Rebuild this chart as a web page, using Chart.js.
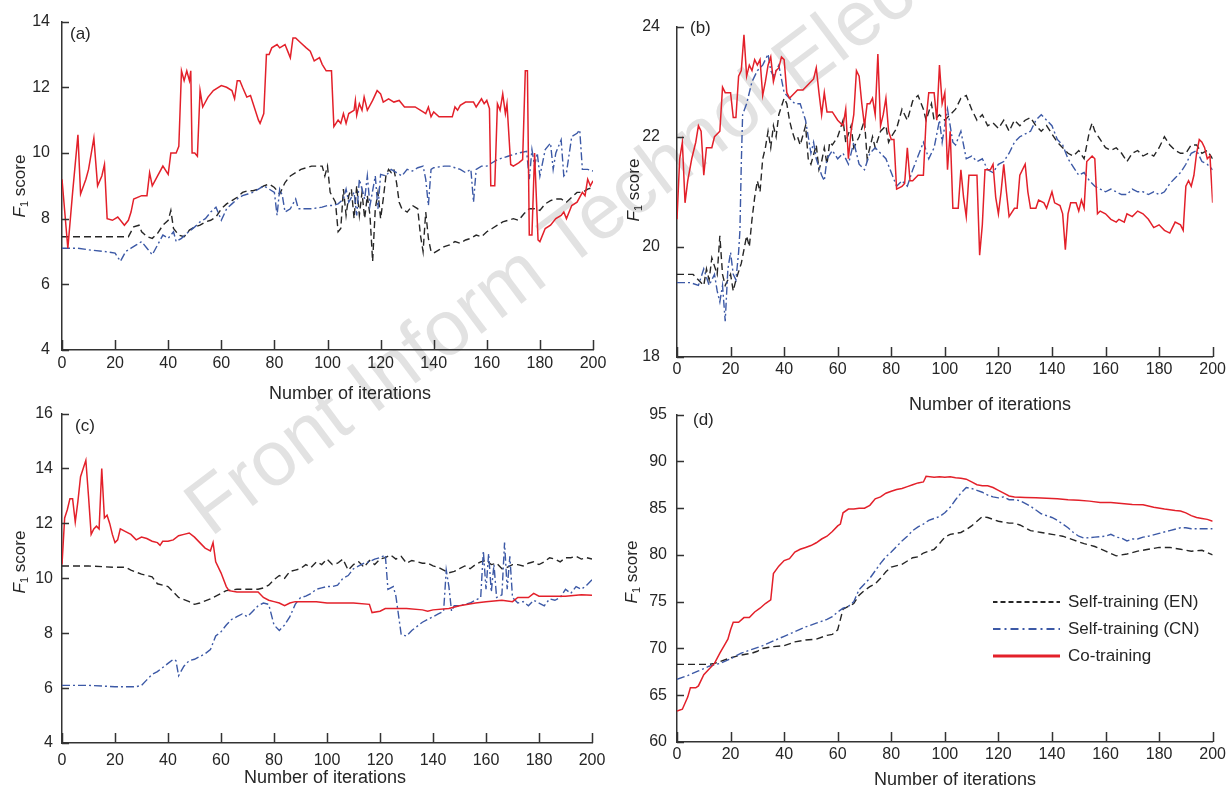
<!DOCTYPE html>
<html>
<head>
<meta charset="utf-8">
<title>F1 score vs number of iterations</title>
<script src="https://cdn.jsdelivr.net/npm/chart.js@4.4.1/dist/chart.umd.min.js"></script>
<style>
body { margin: 0; background: #fff; width: 1229px; height: 791px; overflow: hidden; position: relative; font-family: "Liberation Sans", Arial, sans-serif; }
canvas { position: absolute; z-index: 1; }
#wm { position: absolute; left: 222px; top: 462px; font-size: 78px; color: #e2e2e2; white-space: nowrap; transform-origin: 0 100%; transform: rotate(-37deg); z-index: 0; }
</style>
</head>
<body>
<div id="wm">Front Inform Technol Electron Eng</div>
<canvas id="ca" width="615" height="410" style="left:0;top:0;width:615px;height:410px"></canvas>
<canvas id="cb" width="614" height="420" style="left:615px;top:0;width:614px;height:420px"></canvas>
<canvas id="cc" width="615" height="396" style="left:0;top:395px;width:615px;height:396px"></canvas>
<canvas id="cd" width="614" height="396" style="left:615px;top:395px;width:614px;height:396px"></canvas>
<script>
// x ticks shared by every panel
var iterTicks = [0, 20, 40, 60, 80, 100, 120, 140, 160, 180, 200];
var yTicksA = [4, 6, 8, 10, 12, 14];
var yTicksB = [18, 20, 22, 24];
var yTicksC = [4, 6, 8, 10, 12, 14, 16];
var yTicksD = [60, 65, 70, 75, 80, 85, 90, 95];
var seriesNames = ['Self-training (EN)', 'Self-training (CN)', 'Co-training'];

// [iteration, F1 score]
var aEN = [[0,7.45],[10,7.45],[20,7.45],[25,7.45],[27,7.75],[29,7.8],[30,7.6],[32,7.45],[34,7.4],[36,7.55],[38,7.8],[40,7.95],[41,8.25],[42,7.7],[44,7.5],[46,7.45],[48,7.65],[50,7.75],[52,7.8],[54,7.9],[56,7.95],[58,8.05],[60,8.3],[62,8.45],[64,8.55],[66,8.65],[68,8.8],[70,8.85],[72,8.85],[74,8.9],[76,9.0],[78,9.05],[80,8.95],[82,8.75],[84,9.1],[86,9.3],[88,9.4],[90,9.5],[92,9.55],[94,9.6],[98,9.6],[99,9.3],[100,9.6],[101,8.8],[103,8.5],[104,7.6],[105,7.7],[106,8.9],[107,8.1],[108,8.7],[109,8.9],[110,8.0],[111,9.0],[112,8.1],[113,8.8],[114,8.0],[115,8.7],[116,8.1],[117,6.7],[118,8.3],[119,8.8],[120,8.0],[121,8.6],[122,9.3],[123,9.5],[124,9.4],[125,9.5],[126,9.1],[127,8.5],[128,8.3],[130,8.2],[132,8.4],[134,8.3],[135,7.5],[136,7.0],[137,8.2],[138,7.4],[139,7.0],[140,6.95],[142,7.05],[144,7.15],[146,7.2],[148,7.3],[150,7.25],[152,7.35],[154,7.4],[156,7.5],[158,7.45],[160,7.6],[162,7.7],[164,7.8],[166,7.9],[168,7.95],[170,8.0],[172,7.95],[174,8.15],[176,8.3],[178,8.3],[180,8.25],[182,8.45],[184,8.55],[186,8.6],[188,8.6],[190,8.5],[192,8.65],[194,8.8],[196,8.8],[198,8.9],[200,8.95]];
var aCN = [[0,7.1],[6,7.1],[10,7.05],[16,7.0],[20,6.95],[22,6.7],[24,7.0],[26,7.1],[28,7.2],[30,7.3],[32,7.1],[34,6.9],[36,7.2],[38,7.5],[40,7.4],[42,7.6],[43,7.3],[45,7.4],[47,7.55],[50,7.75],[52,7.9],[54,8.0],[56,8.2],[58,8.35],[60,7.95],[62,8.3],[64,8.45],[66,8.6],[68,8.7],[70,8.75],[72,8.8],[74,8.9],[76,9.0],[78,8.9],[80,8.8],[81,8.1],[82,8.9],[83,8.7],[84,8.2],[86,8.3],[88,8.6],[89,8.3],[90,8.3],[94,8.3],[98,8.35],[100,8.4],[102,8.4],[104,8.45],[106,8.6],[107,8.9],[108,8.5],[110,8.8],[111,8.1],[112,9.2],[114,8.6],[115,9.3],[116,8.4],[118,9.3],[119,8.3],[120,9.35],[122,9.3],[124,9.5],[126,9.4],[128,9.3],[130,9.5],[132,9.45],[134,9.55],[136,9.6],[137,9.2],[138,8.4],[139,9.5],[140,9.55],[144,9.6],[146,9.6],[148,9.55],[150,9.5],[152,9.4],[154,9.5],[155,8.5],[156,9.5],[158,9.6],[160,9.6],[164,9.8],[168,9.9],[172,10.0],[175,10.05],[176,9.2],[177,10.1],[178,9.6],[179,10.0],[180,9.3],[182,10.1],[184,10.3],[185,9.5],[186,10.0],[188,10.4],[189,9.3],[190,9.4],[192,10.5],[194,10.6],[195,10.7],[196,9.5],[198,9.5],[200,9.45]];
var aCo = [[0,9.2],[2.2,7.1],[4,8.8],[6,10.55],[7,8.75],[9,9.2],[10,9.5],[12,10.45],[13.4,9.0],[15,9.3],[16,9.65],[17,8.0],[19,7.95],[21,8.05],[22,7.95],[23.5,7.8],[25,7.95],[26,8.2],[27,8.6],[30,8.7],[32,8.7],[33,9.4],[34,9.0],[36,9.3],[38,9.6],[40,9.35],[41,10.0],[43,10.0],[44,10.2],[45,12.5],[46,12.2],[47,12.5],[48,12.2],[48.5,12.5],[49,10.0],[50,10.0],[51,9.9],[52,11.9],[53,11.4],[55,11.7],[57,11.9],[60,12.05],[62,12.0],[64,11.9],[65,11.65],[66,12.2],[67,12.2],[68,12.0],[69.6,11.7],[71,11.75],[72,11.5],[74,11.0],[74.6,10.9],[76,11.2],[77,13.0],[78,13.0],[79,13.2],[81,13.3],[82,13.2],[84,13.3],[85,13.1],[86,12.9],[87,13.5],[88,13.5],[90,13.35],[92,13.2],[93.5,13.1],[95,12.8],[97,12.9],[98,12.7],[99.5,12.5],[101.5,12.5],[102.4,10.8],[104,11.0],[105,10.9],[106,11.2],[107,10.9],[108,11.2],[110,11.3],[110.5,11.6],[111,11.15],[112,11.5],[113,11.3],[113.8,11.7],[115,11.3],[117,11.6],[118.7,11.9],[120,11.8],[121,11.55],[123,11.65],[125,11.55],[127,11.6],[129,11.4],[133,11.4],[136,11.25],[137,11.2],[138,11.4],[139,11.1],[140,11.25],[142,11.1],[145,11.1],[147,11.1],[148,11.4],[149,11.3],[150,11.45],[152,11.55],[155,11.55],[156,11.4],[158,11.65],[159,11.5],[160,11.6],[161,11.35],[161.5,9.0],[163,9.0],[164,11.5],[165,11.3],[166,11.8],[167,11.2],[167.6,11.5],[169,9.65],[170,9.6],[172,9.7],[173.5,9.8],[174.5,12.5],[175.3,12.5],[176,7.5],[177,7.5],[178,10.0],[179.3,7.35],[180,7.3],[182,7.7],[184,7.8],[186,8.0],[188,8.1],[189,8.2],[190,8.0],[192,8.4],[194,8.5],[196,8.8],[197,8.7],[198,9.2],[199,9.0],[200,9.15]];

var bEN = [[0,19.5],[6,19.5],[8,19.4],[10,19.3],[11,19.6],[12,19.4],[13,19.8],[15,19.5],[16,20.2],[17,19.5],[18,19.3],[20,19.5],[21,19.2],[22,19.4],[24,19.7],[26,20.2],[27,20.0],[28,20.5],[29,20.9],[30,21.2],[31,21.0],[32,21.6],[33,21.8],[34,22.1],[35,21.8],[36,22.2],[37,22.0],[38,22.4],[40,22.7],[41,22.6],[42,22.3],[43,22.1],[44,21.95],[45,22.0],[46,21.85],[48,22.2],[49,21.6],[50,21.5],[52,21.85],[53,21.4],[54,21.55],[55,21.8],[56,21.5],[57,21.9],[58,21.85],[60,22.0],[62,22.3],[63,21.9],[65,22.2],[66,21.8],[68,22.0],[70,22.3],[71,21.6],[73,22.0],[74,21.8],[76,22.1],[78,22.2],[79,21.9],[80,22.0],[82,22.15],[84,22.5],[86,22.3],[88,22.65],[90,22.75],[92,22.5],[93,22.3],[95,22.6],[96,22.3],[98,22.4],[100,22.3],[102,22.4],[104,22.5],[106,22.7],[108,22.75],[110,22.5],[112,22.3],[114,22.4],[116,22.2],[118,22.25],[120,22.15],[122,22.3],[124,22.1],[126,22.3],[128,22.2],[130,22.3],[132,22.35],[134,22.2],[136,22.1],[138,22.2],[140,22.05],[142,21.9],[144,21.8],[146,21.7],[148,21.65],[150,21.75],[152,21.6],[154,22.1],[155,22.25],[156,22.1],[158,21.95],[160,21.8],[162,21.75],[164,21.8],[166,21.7],[168,21.55],[170,21.7],[172,21.75],[174,21.65],[176,21.7],[178,21.65],[180,21.8],[182,22.0],[184,21.85],[186,21.75],[188,21.7],[190,21.7],[192,21.85],[194,21.85],[196,21.7],[198,21.75],[200,21.6]];
var bCN = [[0,19.35],[5,19.35],[8,19.3],[10,19.6],[11,19.45],[12,19.3],[14,19.5],[15,19.2],[16,19.0],[17,19.3],[18,18.65],[19,19.6],[20,19.9],[21,19.5],[22,19.4],[23,19.9],[23.5,20.3],[24,21.5],[24.5,22.4],[26,22.6],[28,23.0],[30,23.2],[32,23.3],[34,23.5],[35,23.2],[36,23.1],[38,23.3],[40,22.8],[42,22.7],[44,22.6],[46,22.6],[48,22.3],[50,21.7],[51,21.9],[52,21.6],[54,21.3],[55,21.2],[56,21.6],[58,21.75],[60,21.6],[62,21.7],[64,21.5],[66,21.9],[68,21.5],[70,21.4],[72,21.7],[74,21.8],[76,21.7],[78,21.6],[80,21.35],[82,21.1],[84,21.2],[86,21.1],[88,21.4],[90,21.65],[92,21.9],[94,21.6],[96,21.8],[98,22.3],[99,21.9],[100,22.2],[101,22.5],[103,21.9],[104,21.85],[106,22.1],[108,21.6],[110,21.65],[112,21.55],[114,21.6],[116,21.4],[118,21.35],[120,21.5],[122,21.55],[124,21.7],[126,21.9],[128,22.0],[130,22.05],[132,22.1],[134,22.3],[136,22.4],[138,22.3],[140,22.2],[142,21.95],[144,21.85],[146,21.6],[148,21.45],[150,21.3],[152,21.35],[154,21.2],[156,21.1],[158,21.05],[160,21.0],[162,21.05],[164,21.0],[166,20.95],[168,20.95],[170,21.05],[172,21.0],[174,21.0],[176,20.95],[178,21.0],[180,20.95],[182,21.0],[184,21.15],[186,21.25],[188,21.35],[190,21.5],[192,21.7],[194,21.75],[196,21.55],[198,21.5],[200,21.4]];
var bCo = [[0,20.5],[1,21.6],[2,21.9],[3,20.8],[4,21.2],[5.5,21.6],[7,21.9],[8,22.2],[9,22.1],[10,21.3],[11,21.8],[13,21.8],[14,22.0],[16,22.1],[17,22.9],[18,22.8],[20,22.8],[21,22.35],[22,22.35],[23,23.1],[24,23.2],[25,23.85],[26,23.1],[27,23.3],[28,23.2],[29,23.4],[30,23.3],[31,23.4],[32,22.75],[33,23.0],[34,23.3],[35,23.45],[36,23.0],[37,23.2],[38,23.25],[39,23.45],[40,23.4],[41,22.8],[42,22.7],[43,22.75],[45,22.85],[47,22.85],[49,22.95],[51,23.05],[52,23.25],[53,22.8],[54,22.4],[55,22.8],[56,22.45],[58,22.45],[60,22.3],[62,22.2],[63,22.5],[64,21.6],[65,22.1],[66,22.4],[67,23.2],[68,23.1],[69,22.6],[70,22.2],[71,22.6],[72,22.6],[73,22.7],[74,22.4],[75,23.5],[76,22.2],[77,22.4],[78,22.7],[79,22.1],[80,21.95],[81,21.95],[82,21.05],[84,21.1],[85,21.15],[86,21.8],[87,21.2],[88,21.2],[90,21.3],[92,21.3],[93,22.3],[94,22.8],[96,22.8],[97,22.3],[98,23.3],[99,22.6],[100,22.8],[101,21.4],[102,22.1],[103,20.7],[105,20.7],[106,21.4],[107,20.9],[108,20.55],[109,21.3],[112,21.3],[113,19.85],[114,20.4],[115,21.4],[117,21.4],[118,21.5],[119,20.9],[120,20.6],[121,21.0],[122,21.5],[123,21.0],[124,20.55],[126,20.7],[127,20.7],[128,21.3],[130,21.5],[131,21.0],[132,20.7],[134,20.7],[135,20.85],[137,20.8],[138,20.7],[140,21.0],[141,20.8],[143,20.75],[144,20.6],[145,19.95],[146,20.6],[147,20.8],[149,20.8],[150,20.65],[151,20.85],[152,20.7],[153,21.55],[155,21.65],[156,21.6],[157,20.6],[158,20.65],[160,20.6],[162,20.5],[164,20.45],[165,20.5],[167,20.45],[168,20.6],[170,20.55],[172,20.65],[174,20.6],[176,20.5],[178,20.35],[180,20.4],[182,20.3],[184,20.25],[186,20.45],[188,20.4],[189,20.3],[190,21.1],[191,21.2],[192,21.1],[193,21.3],[194,21.7],[195,21.95],[196,21.9],[197,21.8],[198,21.6],[199,21.65],[200,20.8]];

var cEN = [[0,10.45],[10,10.45],[20,10.4],[24,10.4],[26,10.3],[30,10.15],[34,10.05],[36,9.8],[40,9.7],[44,9.3],[48,9.15],[50,9.05],[52,9.1],[56,9.25],[60,9.45],[62,9.55],[66,9.6],[70,9.6],[74,9.6],[76,9.65],[78,9.75],[80,9.95],[82,10.1],[84,10.0],[86,10.25],[88,10.3],[90,10.35],[92,10.5],[94,10.4],[96,10.6],[98,10.5],[100,10.7],[102,10.5],[104,10.55],[106,10.7],[108,10.3],[110,10.5],[112,10.6],[114,10.4],[116,10.65],[118,10.5],[120,10.7],[122,10.75],[124,10.85],[126,10.7],[128,10.8],[130,10.55],[132,10.65],[134,10.6],[136,10.55],[138,10.55],[140,10.45],[142,10.4],[144,10.3],[146,10.2],[148,10.25],[150,10.35],[152,10.45],[154,10.35],[156,10.5],[158,10.6],[160,10.65],[162,10.5],[164,10.55],[166,10.35],[168,10.4],[170,10.5],[172,10.5],[174,10.45],[176,10.55],[178,10.6],[180,10.5],[182,10.6],[184,10.75],[186,10.7],[188,10.6],[190,10.75],[192,10.75],[194,10.8],[196,10.7],[198,10.75],[200,10.7]];
var cCN = [[0,6.1],[10,6.1],[20,6.05],[28,6.05],[30,6.1],[32,6.3],[34,6.5],[36,6.6],[38,6.75],[40,6.9],[42,7.05],[43,7.0],[44,6.45],[46,6.8],[48,7.0],[50,7.05],[52,7.15],[54,7.25],[56,7.4],[58,7.9],[60,8.05],[62,8.3],[64,8.5],[66,8.6],[68,8.7],[70,8.6],[72,8.8],[74,9.0],[76,9.1],[78,9.05],[80,8.3],[82,8.1],[84,8.3],[86,8.6],[88,9.05],[90,9.3],[92,9.35],[94,9.45],[96,9.6],[98,9.65],[100,9.7],[102,9.7],[104,9.75],[106,10.0],[108,10.1],[110,10.35],[112,10.45],[114,10.55],[116,10.6],[118,10.7],[120,10.75],[122,10.85],[123,9.6],[125,9.7],[126,9.35],[128,7.95],[130,7.9],[132,8.1],[134,8.25],[136,8.4],[138,8.5],[140,8.6],[142,8.7],[144,8.8],[145,10.3],[146,9.7],[147,8.8],[148,9.0],[150,9.0],[152,9.05],[154,9.1],[156,9.2],[158,9.3],[159,11.0],[160,9.6],[161,10.9],[162,9.5],[163,10.5],[164,9.3],[166,9.4],[167,11.3],[168,9.6],[169,10.8],[170,9.3],[172,9.1],[174,9.15],[176,9.0],[178,9.2],[180,9.1],[182,9.0],[184,9.25],[186,9.2],[188,9.3],[190,9.6],[192,9.45],[194,9.7],[196,9.6],[198,9.75],[200,9.95]];
var cCo = [[0,10.5],[1,12.2],[2,12.5],[3,12.9],[4,12.9],[5,12.05],[6,12.8],[7,13.7],[8,14.0],[9,14.3],[10,13.0],[11,11.6],[12,11.8],[13,11.9],[14,11.8],[15,14.0],[16,12.2],[17,12.3],[18,12.0],[19,11.6],[20,11.3],[21,11.4],[22,11.8],[24,11.7],[26,11.6],[28,11.4],[30,11.5],[32,11.45],[34,11.35],[36,11.3],[37,11.2],[38,11.35],[40,11.35],[42,11.4],[44,11.55],[46,11.6],[48,11.65],[50,11.5],[52,11.3],[54,11.1],[56,11.0],[57,11.3],[58,10.6],[60,10.2],[62,9.7],[63,9.55],[66,9.5],[70,9.5],[74,9.5],[76,9.3],[78,9.2],[80,9.15],[82,9.1],[84,9.0],[86,9.1],[88,9.15],[92,9.15],[96,9.15],[100,9.1],[110,9.1],[116,9.05],[117,8.75],[120,8.8],[122,8.9],[130,8.9],[136,8.85],[138,8.8],[140,8.85],[146,8.9],[150,9.0],[156,9.1],[160,9.15],[166,9.2],[170,9.15],[172,9.3],[176,9.3],[178,9.45],[180,9.35],[184,9.35],[190,9.35],[196,9.4],[200,9.38]];

var dEN = [[0,68.3],[12,68.3],[14,68.4],[16,68.6],[20,69.0],[24,69.3],[28,69.5],[30,69.7],[32,70.0],[36,70.2],[40,70.3],[44,70.7],[48,70.9],[52,71.0],[56,71.4],[58,71.5],[60,72.0],[62,74.2],[64,74.5],[66,74.8],[68,75.7],[70,76.2],[72,76.6],[74,76.9],[76,77.5],[78,78.2],[80,78.7],[84,79.0],[88,79.7],[90,79.8],[92,80.2],[96,80.6],[98,81.2],[100,81.9],[102,82.2],[106,82.4],[108,82.7],[110,83.1],[112,83.6],[114,84.1],[116,84.0],[120,83.6],[124,83.4],[126,83.4],[128,83.2],[132,82.6],[136,82.4],[140,82.2],[144,82.0],[148,81.6],[152,81.2],[156,80.9],[160,80.4],[164,79.9],[168,80.1],[172,80.4],[176,80.6],[180,80.8],[184,80.8],[188,80.6],[192,80.4],[196,80.5],[200,80.0]];
var dCN = [[0,66.7],[4,67.1],[8,67.6],[12,68.1],[16,68.4],[20,68.9],[24,69.5],[28,69.9],[32,70.3],[36,70.8],[40,71.3],[44,71.8],[48,72.3],[52,72.7],[56,73.1],[58,73.4],[60,73.9],[62,74.3],[64,74.5],[66,75.0],[68,76.3],[70,76.9],[72,77.5],[74,78.3],[76,79.1],[78,79.8],[80,80.3],[82,80.9],[84,81.5],[86,82.0],[88,82.6],[90,83.0],[92,83.3],[94,83.7],[96,83.9],[98,84.1],[100,84.5],[102,85.1],[104,85.9],[106,86.6],[108,87.2],[110,87.1],[112,86.9],[114,86.7],[116,86.4],[118,86.2],[120,86.1],[122,86.2],[124,85.9],[126,85.9],[128,85.8],[130,85.5],[132,85.2],[134,84.8],[136,84.4],[140,84.0],[142,83.7],[144,83.3],[146,82.9],[148,82.4],[150,82.0],[152,81.8],[156,81.9],[160,82.0],[162,82.2],[164,81.9],[166,81.8],[168,81.5],[170,81.7],[172,81.7],[174,81.9],[176,82.0],[180,82.3],[184,82.6],[188,82.9],[190,82.9],[192,82.8],[196,82.8],[200,82.8]];
var dCo = [[0,63.3],[2,63.5],[4,64.8],[5,65.8],[7,65.8],[8,66.0],[10,67.2],[12,67.8],[14,68.4],[16,69.5],[18,70.5],[19,71.0],[20,72.0],[21,72.8],[23,72.8],[25,73.3],[27,73.3],[29,73.9],[31,74.3],[33,74.8],[35,75.2],[36,78.0],[38,78.8],[40,79.4],[42,79.6],[44,80.3],[46,80.6],[48,80.8],[50,81.0],[52,81.3],[54,81.7],[56,82.0],[58,82.5],[60,83.1],[61,83.3],[62,84.5],[64,84.9],[66,84.9],[68,85.0],[70,85.0],[72,85.3],[74,86.0],[76,86.2],[78,86.6],[80,86.8],[82,87.0],[84,87.1],[86,87.3],[88,87.5],[90,87.7],[92,87.8],[93,88.4],[96,88.3],[98,88.35],[100,88.3],[102,88.35],[104,88.25],[106,88.2],[108,88.1],[110,87.8],[112,87.5],[114,87.4],[116,87.4],[118,87.2],[120,86.9],[122,86.6],[124,86.3],[126,86.2],[130,86.15],[134,86.1],[138,86.05],[142,86.0],[146,85.9],[150,85.85],[154,85.75],[158,85.6],[162,85.6],[166,85.5],[170,85.4],[174,85.35],[178,85.1],[182,84.9],[186,84.75],[188,84.7],[190,84.5],[192,84.2],[194,84.0],[196,83.9],[198,83.8],[200,83.6]];

var AXIS = '#333333';
var TEXT = '#262626';
var RED = '#e3202a';
var BLUE = '#3c59a6';
var BLACK = '#262626';
var FONT = '"Liberation Sans", Arial, sans-serif';

function toPoints(pairs) {
    return pairs.map(function (p) { return { x: p[0], y: p[1] }; });
}

// little canvas with a dashed stroke, used as the legend sample
function lineSample(color, dash, width) {
    var c = document.createElement('canvas');
    c.width = 67;
    c.height = 6;
    var g = c.getContext('2d');
    g.strokeStyle = color;
    g.lineWidth = width;
    g.setLineDash(dash);
    g.beginPath();
    g.moveTo(0, 3);
    g.lineTo(67, 3);
    g.stroke();
    return c;
}

// inward tick marks, panel tag, axis titles
var panelText = {
    id: 'panelText',
    beforeDraw: function (chart, args, o) {
        var lg = chart.legend;
        if (lg && o.legendLeft !== undefined) {
            var w = lg.width, h = lg.height;
            lg.left = o.legendLeft;
            lg.top = o.legendTop;
            lg.right = lg.left + w + 60;
            lg.bottom = lg.top + h + 60;
        }
    },
    afterDraw: function (chart, args, o) {
        var ctx = chart.ctx;
        var xs = chart.scales.x, ys = chart.scales.y;
        ctx.save();
        ctx.strokeStyle = AXIS;
        ctx.lineWidth = 1.5;
        ctx.beginPath();
        xs.ticks.forEach(function (t) {
            var px = Math.round(xs.getPixelForValue(t.value)) + 0.5;
            ctx.moveTo(px, xs.top);
            ctx.lineTo(px, xs.top - 10);
        });
        ys.ticks.forEach(function (t) {
            var py = Math.round(ys.getPixelForValue(t.value)) + 0.5;
            ctx.moveTo(ys.right, py);
            ctx.lineTo(ys.right + 7, py);
        });
        ctx.stroke();

        ctx.fillStyle = TEXT;
        ctx.textBaseline = 'middle';
        ctx.textAlign = 'left';
        ctx.font = '17px ' + FONT;
        ctx.fillText(o.tag, o.tagX, o.tagY);

        ctx.textAlign = 'center';
        ctx.font = '18px ' + FONT;
        ctx.fillText('Number of iterations', o.xTitleX, o.xTitleY);

        // F1 score, italic F with subscript 1, rotated
        ctx.translate(o.yTitleX, o.yTitleY);
        ctx.rotate(-Math.PI / 2);
        ctx.textAlign = 'left';
        ctx.font = 'italic 17px ' + FONT;
        var wF = ctx.measureText('F').width;
        ctx.font = '11px ' + FONT;
        var w1 = ctx.measureText('1').width;
        ctx.font = '17px ' + FONT;
        var wS = ctx.measureText(' score').width;
        var x0 = -(wF + w1 + wS) / 2;
        ctx.font = 'italic 17px ' + FONT;
        ctx.fillText('F', x0, 0);
        ctx.font = '11px ' + FONT;
        ctx.fillText('1', x0 + wF, 5);
        ctx.font = '17px ' + FONT;
        ctx.fillText(' score', x0 + wF + w1, 0);
        ctx.restore();
    }
};

function makePanel(id, p) {
    var yTicks = p.yTicks;
    return new Chart(document.getElementById(id), {
        type: 'line',
        data: {
            datasets: [{
                label: seriesNames[0],
                data: toPoints(p.en),
                borderColor: BLACK,
                borderWidth: 1.4,
                borderDash: [7, 4],
                legendWidth: 2,
                legendDash: [5, 3],
                order: 3
            }, {
                label: seriesNames[1],
                data: toPoints(p.cn),
                borderColor: BLUE,
                borderWidth: 1.4,
                borderDash: [8, 3, 2, 3],
                legendWidth: 2,
                legendDash: [8, 4, 2, 4],
                order: 2
            }, {
                label: seriesNames[2],
                data: toPoints(p.co),
                borderColor: RED,
                borderWidth: 1.5,
                legendWidth: 3,
                legendDash: [],
                order: 1
            }]
        },
        options: {
            responsive: false,
            animation: false,
            devicePixelRatio: 1,
            elements: {
                point: { radius: 0, hoverRadius: 0 },
                line: { tension: 0, fill: false }
            },
            layout: { padding: { left: 0, top: p.padTop, right: p.padRight, bottom: 0 } },
            scales: {
                x: {
                    type: 'linear',
                    min: iterTicks[0],
                    max: iterTicks[iterTicks.length - 1],
                    ticks: {
                        stepSize: iterTicks[1] - iterTicks[0],
                        autoSkip: false,
                        maxRotation: 0,
                        padding: p.xLabelPad,
                        color: TEXT,
                        font: { family: FONT, size: 16 }
                    },
                    grid: { display: false, drawTicks: false },
                    border: { display: true, color: AXIS, width: 1.5 },
                    afterFit: function (s) { s.height = p.xHeight; }
                },
                y: {
                    type: 'linear',
                    min: yTicks[0],
                    max: yTicks[yTicks.length - 1],
                    ticks: {
                        stepSize: yTicks[1] - yTicks[0],
                        autoSkip: false,
                        padding: p.yLabelPad,
                        color: TEXT,
                        font: { family: FONT, size: 16 }
                    },
                    grid: { display: false, drawTicks: false },
                    border: { display: true, color: AXIS, width: 1.5 },
                    afterFit: function (s) { s.width = 62; }
                }
            },
            plugins: {
                tooltip: { enabled: false },
                legend: p.legend ? {
                    display: true,
                    position: 'chartArea',
                    align: 'start',
                    labels: {
                        usePointStyle: true,
                        pointStyleWidth: 67,
                        padding: 10,
                        color: TEXT,
                        font: { family: FONT, size: 17 },
                        generateLabels: function (chart) {
                            var items = Chart.defaults.plugins.legend.labels.generateLabels(chart);
                            items.forEach(function (it) {
                                var ds = chart.data.datasets[it.datasetIndex];
                                it.pointStyle = lineSample(ds.borderColor, ds.legendDash, ds.legendWidth);
                            });
                            return items;
                        },
                        sort: function (a, b) { return a.datasetIndex - b.datasetIndex; }
                    }
                } : { display: false },
                panelText: p.text
            }
        },
        plugins: [panelText]
    });
}

makePanel('ca', {
    en: aEN, cn: aCN, co: aCo, yTicks: yTicksA,
    padTop: 17, padRight: 22, xHeight: 60, xLabelPad: 4, yLabelPad: 12,
    text: { tag: '(a)', tagX: 70, tagY: 34, xTitleX: 350, xTitleY: 394, yTitleX: 20, yTitleY: 186 }
});
makePanel('cb', {
    en: bEN, cn: bCN, co: bCo, yTicks: yTicksB,
    padTop: 18, padRight: 15, xHeight: 63, xLabelPad: 3, yLabelPad: 17,
    text: { tag: '(b)', tagX: 75, tagY: 28, xTitleX: 375, xTitleY: 405, yTitleX: 19, yTitleY: 190 }
});
makePanel('cc', {
    en: cEN, cn: cCN, co: cCo, yTicks: yTicksC,
    padTop: 15, padRight: 23, xHeight: 48, xLabelPad: 8, yLabelPad: 9,
    text: { tag: '(c)', tagX: 75, tagY: 31, xTitleX: 325, xTitleY: 383, yTitleX: 20, yTitleY: 167 }
});
makePanel('cd', {
    en: dEN, cn: dCN, co: dCo, yTicks: yTicksD, legend: true,
    padTop: 14, padRight: 15, xHeight: 49, xLabelPad: 3, yLabelPad: 10,
    text: { tag: '(d)', tagX: 78, tagY: 25, xTitleX: 340, xTitleY: 385, yTitleX: 17, yTitleY: 177,
            legendLeft: 367.5, legendTop: 188.5 }
});
</script>
</body>
</html>
